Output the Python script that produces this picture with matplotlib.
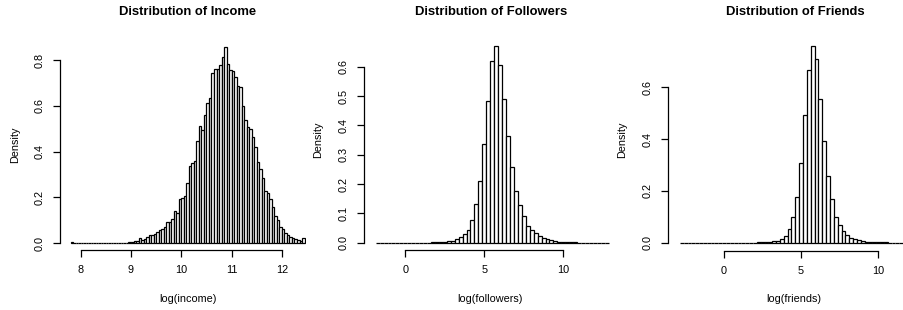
import matplotlib
matplotlib.use("Agg")
import matplotlib.pyplot as plt
import numpy as np

plt.rcParams['font.family'] = ['Liberation Sans', 'DejaVu Sans']

# ---- data: histogram densities ----
income_start = 7.8
income_width = 0.05
income_density = [
    0.004, 0.001, 0.001, 0.000, 0.001, 0.001, 0.001, 0.001, 0.001, 0.001,
    0.001, 0.001, 0.001, 0.002, 0.001, 0.002, 0.002, 0.002, 0.002, 0.002,
    0.003, 0.003, 0.003, 0.004,
    0.006, 0.008, 0.012, 0.021, 0.015, 0.019, 0.027, 0.035, 0.038, 0.040,
    0.049, 0.060, 0.062, 0.073, 0.092, 0.095, 0.108, 0.140, 0.134, 0.192,
    0.197, 0.207, 0.262, 0.337, 0.349, 0.361, 0.447, 0.512, 0.495, 0.560,
    0.612, 0.636, 0.742, 0.760, 0.761, 0.778, 0.815, 0.858, 0.782, 0.756,
    0.753, 0.724, 0.687, 0.684, 0.600, 0.538, 0.509, 0.500, 0.465, 0.422,
    0.353, 0.323, 0.284, 0.230, 0.218, 0.192, 0.157, 0.119, 0.102, 0.073,
    0.063, 0.044, 0.036, 0.026, 0.022, 0.017, 0.015, 0.010, 0.022,
]

followers_start = -1.875
followers_width = 0.25
followers_density = [
    0.0005, 0.0005, 0.0005, 0.0005, 0.0005, 0.0005, 0.0005, 0.0005, 0.0005, 0.0005,
    0.0005, 0.0005, 0.0005, 0.0005, 0.001, 0.0015, 0.002, 0.003, 0.005, 0.007,
    0.011, 0.018, 0.028, 0.045, 0.077, 0.132, 0.212, 0.335, 0.483, 0.620,
    0.670, 0.606, 0.490, 0.365, 0.257, 0.177, 0.130, 0.090, 0.058, 0.043,
    0.032, 0.023, 0.017, 0.012, 0.008, 0.006, 0.004, 0.003, 0.002, 0.002,
    0.001, 0.0005, 0.0005, 0.0005, 0.0005, 0.0005, 0.0005, 0.0005, 0.0005,
]

friends_start = -2.875
friends_width = 0.25
friends_density = [
    0.0005, 0.0005, 0.0005, 0.0005, 0.0005, 0.0005, 0.0005, 0.0005, 0.0005, 0.0005,
    0.0005, 0.0005, 0.0005, 0.0005, 0.0005, 0.0005, 0.0005, 0.0005, 0.0005, 0.0005,
    0.001, 0.0015, 0.002, 0.003, 0.005, 0.008, 0.014, 0.026, 0.052, 0.100,
    0.178, 0.309, 0.493, 0.665, 0.761, 0.708, 0.554, 0.394, 0.258, 0.168,
    0.100, 0.068, 0.046, 0.030, 0.020, 0.013, 0.009, 0.006, 0.004, 0.003,
    0.002, 0.002, 0.001, 0.001, 0.0005, 0.0005, 0.0005, 0.0005, 0.0005,
]

titles = ['Distribution of Income', 'Distribution of Followers', 'Distribution of Friends']
xlabels = ['log(income)', 'log(followers)', 'log(friends)']
income_xticks = [8, 9, 10, 11, 12]
income_yticks = [0.0, 0.2, 0.4, 0.6, 0.8]
followers_xticks = [0, 5, 10]
followers_yticks = [0.0, 0.1, 0.2, 0.3, 0.4, 0.5, 0.6]
friends_xticks = [0, 5, 10]
friends_yticks = [0.0, 0.2, 0.4, 0.6]

W, H = 904, 310
fig = plt.figure(figsize=(W / 100, H / 100), dpi=100)
fs = 7.8


def panel(left, right, bottom, top, xref_px, xref_val, xscale, y0_px, yscale,
          start, width, dens, xticks, yticks):
    # axes placed in pixel coords so the data mapping matches the picture
    ax = fig.add_axes([left / W, (H - bottom) / H, (right - left) / W, (bottom - top) / H])
    ax.set_xlim(xref_val + (left - xref_px) / xscale, xref_val + (right - xref_px) / xscale)
    ax.set_ylim((y0_px - bottom) / yscale, (y0_px - top) / yscale)
    edges = start + width * np.arange(len(dens) + 1)
    ax.bar(edges[:-1], dens, width=width, align='edge', color='white',
           edgecolor='black', linewidth=0.9)
    for s in ['top', 'right']:
        ax.spines[s].set_visible(False)
    ax.spines['left'].set_bounds(yticks[0], yticks[-1])
    ax.spines['bottom'].set_bounds(xticks[0], xticks[-1])
    for s in ['left', 'bottom']:
        ax.spines[s].set_linewidth(0.9)
    ax.set_xticks(xticks)
    ax.set_xticklabels([str(t) for t in xticks])
    ax.set_yticks(yticks)
    ax.set_yticklabels([f'{t:.1f}' for t in yticks], rotation=90, va='center')
    ax.tick_params(direction='out', length=5, width=0.9, labelsize=fs, pad=6)
    ax.patch.set_visible(False)
    return ax


panel(60, 306, 250, 40, 80.7, 8, 50.3, 243.3, 229.2,
      income_start, income_width, income_density, income_xticks, income_yticks)
panel(364.3, 610, 250, 40, 405.3, 0, 15.8, 242.7, 293.3,
      followers_start, followers_width, followers_density, followers_xticks, followers_yticks)
panel(668.3, 904, 250.5, 40, 724.1, 0, 15.4, 242.7, 259.0,
      friends_start, friends_width, friends_density, friends_xticks, friends_yticks)

title_x = [187.5, 490.8, 795]
xlabel_x = [188, 490, 794]
ylabel_x = [15, 318, 621.7]
ylabel_y = [145, 140, 140]
for i in range(3):
    fig.text(title_x[i] / W, 1 - 12 / H, titles[i], ha='center', va='center',
             fontsize=9.4, fontweight='bold')
    fig.text(xlabel_x[i] / W, 1 - 299 / H, xlabels[i], ha='center', va='center', fontsize=fs)
    fig.text(ylabel_x[i] / W, 1 - ylabel_y[i] / H, 'Density', ha='center', va='center',
             rotation=90, fontsize=fs)

fig.savefig('out.png', dpi=100)
